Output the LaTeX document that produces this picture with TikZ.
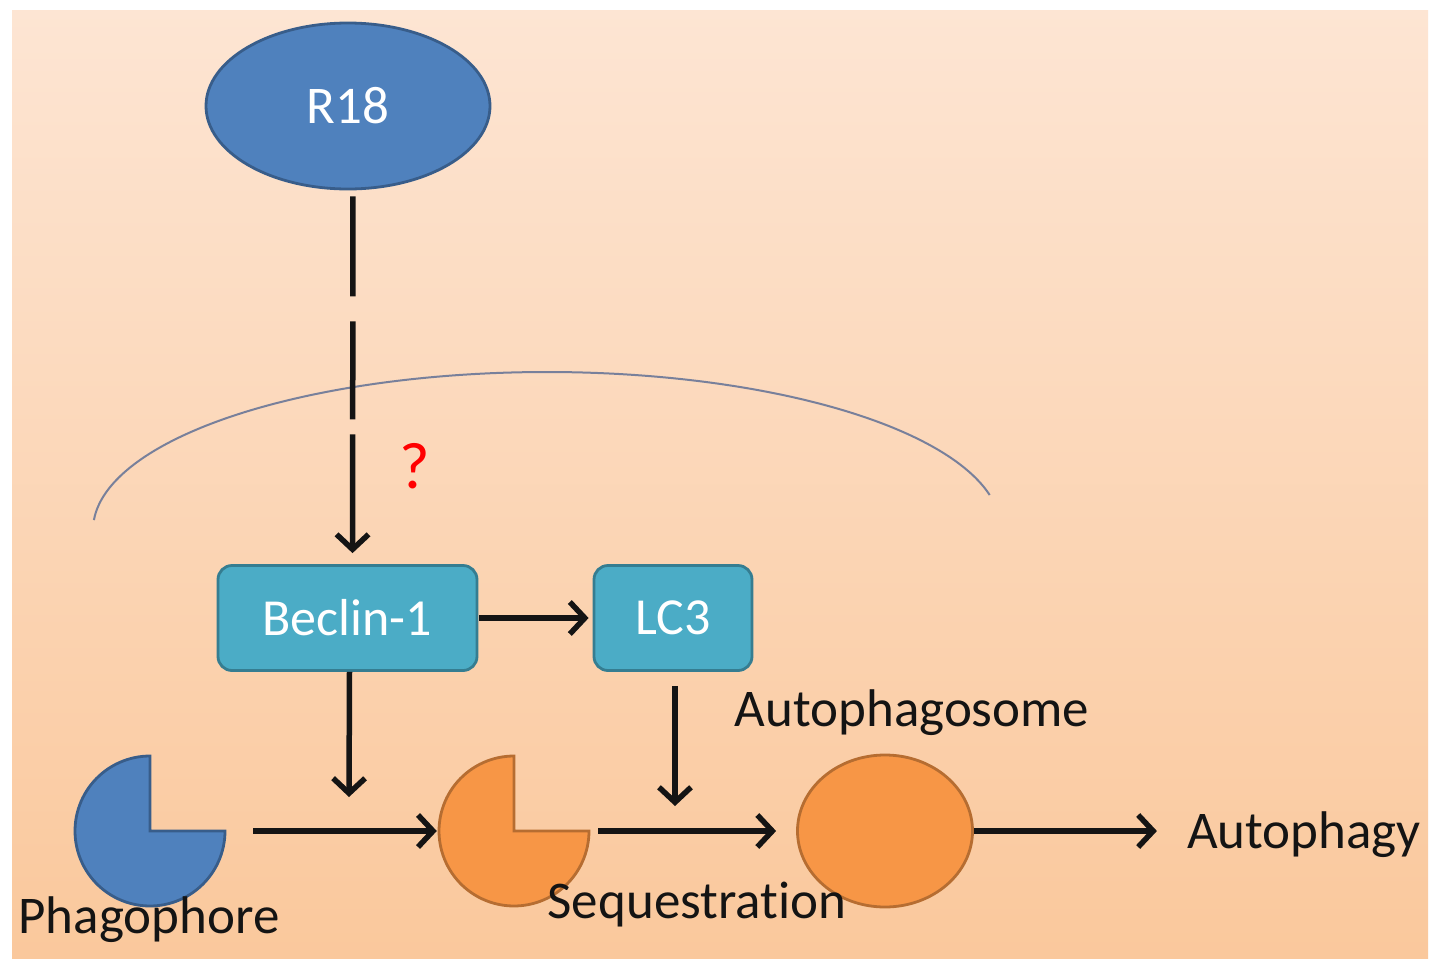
\documentclass[tikz,border=0pt]{standalone}
\usepackage{fontspec}
\setmainfont{Carlito}[Ligatures=NoCommon]
\usetikzlibrary{shapes.geometric,arrows.meta}
\definecolor{bgtop}{RGB}{253,229,211}
\definecolor{bgbot}{RGB}{250,200,156}
\definecolor{pblue}{RGB}{79,129,189}
\definecolor{pbluedark}{RGB}{56,93,138}
\definecolor{paqua}{RGB}{75,172,198}
\definecolor{paquadark}{RGB}{53,125,145}
\definecolor{porange}{RGB}{247,150,70}
\definecolor{porangedark}{RGB}{182,109,49}
\definecolor{arcline}{RGB}{120,128,155}
\definecolor{ink}{RGB}{20,20,20}
\begin{document}
\begin{tikzpicture}[x=1pt,y=-1pt,
  arr/.style={draw=ink,line width=5.5pt,-{Straight Barb[length=15pt,width=32pt]}},
  lbl/.style={inner sep=0pt,text=ink,font=\fontsize{53}{62}\selectfont},
  boxnode/.style={draw=paquadark,fill=paqua,line width=2.8pt,rounded corners=14pt,
    text=white,inner sep=0pt,minimum height=105pt,font=\fontsize{52}{62}\selectfont},
  hole/.style={circle,minimum size=150pt,inner sep=0pt}]
\useasboundingbox (0,0) rectangle (1441,972);
\fill[white] (0,0) rectangle (1441,972);
\shade[top color=bgtop,bottom color=bgbot] (12,10) rectangle (1428,958);
% membrane arc
\draw[arcline,line width=2pt] plot[smooth,domain=12.8:176.4,samples=100]
  ({547+454*cos(\x)},{530-158*sin(\x)});
% nodes
\node[ellipse,draw=pbluedark,fill=pblue,line width=2.8pt,minimum width=284pt,
  minimum height=166pt,inner sep=0pt,text=white,font=\fontsize{53}{62}\selectfont]
  (r18) at (348,106) {R18};
\node[boxnode,minimum width=259pt] (beclin) at (347.5,618) {Beclin-1};
\node[boxnode,minimum width=158pt] (lc3) at (673,618) {LC3};
% phagophore (blue) and sequestering (orange) shapes
\node[hole] (phago) at (150,831) {};
\filldraw[fill=pblue,draw=pbluedark,line width=2.8pt] (150,831) --
  plot[domain=90:360,samples=90] ({150+75*cos(\x)},{831-75*sin(\x)}) -- cycle;
\node[hole] (seqpac) at (514,831) {};
\filldraw[fill=porange,draw=porangedark,line width=2.8pt] (514,831) --
  plot[domain=90:360,samples=90] ({514+75*cos(\x)},{831-75*sin(\x)}) -- cycle;
\node[ellipse,draw=porangedark,fill=porange,line width=2.8pt,minimum width=175pt,
  minimum height=152pt,inner sep=0pt] (auto) at (885,831) {};
% labels
\node[lbl] (phagolbl) at (149,920) {Phagophore};
\node[lbl] (seqlbl) at (697,905) {Sequestration};
\node[lbl] (autolbl) at (912,713) {Autophagosome};
\node[lbl] (autophagy) at (1304,835) {Autophagy};
\node[text=red,inner sep=0pt,font=\fontsize{66}{76}\selectfont] (q) at (415,466) {?};
\coordinate (j1) at (349,797);
\coordinate (j2) at (675,806);
% connectors
\draw[arr,dash pattern=on 100pt off 25pt on 98pt off 15pt on 300pt,shorten <=6pt,shorten >=11pt]
  ([xshift=5pt]r18.south) -- ([xshift=5pt]beclin.north);
\draw[arr,shorten <=1pt,shorten >=4pt] (beclin.east) -- (lc3.west);
\draw[arr] ([xshift=2pt]beclin.south) -- (j1);
\draw[arr,shorten <=14pt] ([xshift=2pt]lc3.south) -- (j2);
\draw[arr,shorten <=28pt,shorten >=2pt] (phago.east) -- (seqpac.west);
\draw[arr,shorten <=9pt,shorten >=20pt] (seqpac.east) -- (auto.west);
\draw[arr,shorten >=30pt] (auto.east) -- (auto.east -| autophagy.west);
\end{tikzpicture}
\end{document}
